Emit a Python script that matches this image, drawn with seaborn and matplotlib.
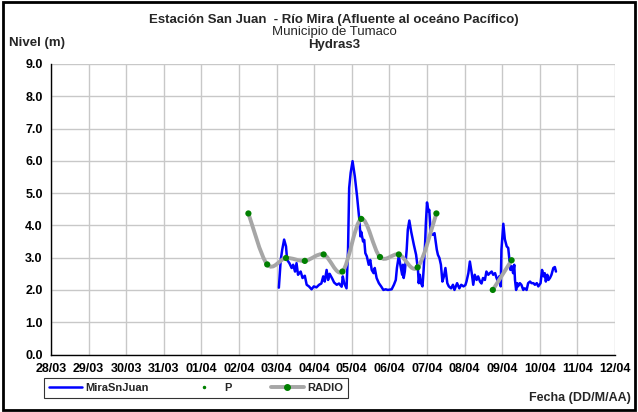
"""
Nivel del Río Mira - Estación San Juan (Hydras3)
Serie del sensor (MiraSnJuan) y lecturas por RADIO con línea suavizada.
"""

import numpy as np
import pandas as pd
import seaborn as sns
import matplotlib
matplotlib.use("Agg")
import matplotlib.pyplot as plt
import matplotlib.dates as mdates
from matplotlib.path import Path
from matplotlib.patches import PathPatch, Rectangle
from matplotlib.lines import Line2D

sns.set_style("white")
plt.rcParams['font.family'] = ['Liberation Sans', 'DejaVu Sans']

# Datos
START = pd.Timestamp("2008-04-03 00:00")

# días desde 03/04 00:00
blue_days = [0.06, 0.11, 0.15, 0.20, 0.25, 0.28, 0.34, 0.40, 0.44, 0.49,
             0.53, 0.57, 0.64, 0.69, 0.75, 0.80, 0.86, 0.93, 0.99, 1.06,
             1.13, 1.19, 1.24, 1.28, 1.33, 1.37, 1.41, 1.48, 1.53, 1.60,
             1.66, 1.73, 1.76, 1.80, 1.86, 1.90, 1.93, 1.97, 2.02, 2.08,
             2.14, 2.20, 2.23, 2.25, 2.30, 2.33, 2.36, 2.40, 2.45, 2.49,
             2.53, 2.58, 2.61, 2.66, 2.72, 2.78, 2.84, 2.90, 2.96, 3.06,
             3.12, 3.17, 3.20, 3.25, 3.29, 3.34, 3.36, 3.38, 3.41, 3.46,
             3.49, 3.53, 3.58, 3.65, 3.71, 3.76, 3.78, 3.81, 3.84, 3.88,
             3.91, 3.95, 3.97, 4.00, 4.04, 4.06, 4.10, 4.15, 4.20, 4.23,
             4.26, 4.29, 4.33, 4.37, 4.41, 4.45, 4.49, 4.54, 4.58, 4.64,
             4.69, 4.73, 4.80, 4.86, 4.91, 4.97, 5.02, 5.05, 5.10, 5.14,
             5.19, 5.23, 5.27, 5.32, 5.36, 5.41, 5.45, 5.49, 5.54, 5.58,
             5.63, 5.67, 5.72, 5.76, 5.81, 5.85, 5.89, 5.92, 5.96, 5.98,
             6.03, 6.07, 6.12, 6.16, 6.19, 6.22, 6.26, 6.29, 6.32, 6.34,
             6.37, 6.40, 6.42, 6.47, 6.51, 6.56, 6.60, 6.65, 6.69, 6.74,
             6.78, 6.83, 6.87, 6.92, 6.96, 7.02, 7.06, 7.10, 7.13, 7.16,
             7.20, 7.23, 7.27, 7.31, 7.36, 7.40, 7.43]
blue_level = [2.07, 2.93, 3.25, 3.56, 3.35, 2.93, 2.83, 2.68, 2.78, 2.57,
              2.83, 2.47, 2.57, 2.37, 2.44, 2.16, 2.11, 2.02, 2.11, 2.08,
              2.16, 2.20, 2.42, 2.26, 2.62, 2.31, 2.50, 2.35, 2.23, 2.16,
              2.20, 2.10, 2.42, 2.20, 2.05, 3.25, 5.16, 5.63, 5.99, 5.52,
              4.90, 4.18, 3.66, 3.80, 3.50, 3.55, 3.14, 3.04, 2.78, 2.93,
              2.62, 2.52, 2.68, 2.37, 2.21, 2.11, 2.00, 2.02, 2.00, 2.02,
              2.16, 2.31, 2.68, 3.06, 2.78, 2.47, 2.78, 2.37, 2.57, 3.25,
              3.87, 4.15, 3.80, 3.40, 3.09, 2.62, 2.21, 2.47, 2.21, 2.11,
              2.62, 3.45, 4.07, 4.71, 4.43, 4.48, 3.76, 3.71, 3.76, 3.50,
              3.25, 3.09, 2.99, 2.78, 2.26, 2.42, 2.68, 2.21, 2.11, 2.05,
              2.16, 2.00, 2.21, 2.05, 2.16, 2.11, 2.15, 2.26, 2.52, 2.88,
              2.52, 2.16, 2.47, 2.31, 2.42, 2.26, 2.20, 2.37, 2.31, 2.57,
              2.47, 2.52, 2.57, 2.47, 2.52, 2.37, 2.26, 2.42, 2.11, 3.25,
              4.05, 3.57, 3.35, 3.30, 2.95, 2.62, 2.73, 2.52, 2.78, 2.31,
              2.00, 2.21, 2.11, 2.21, 2.16, 2.00, 2.05, 2.00, 2.21, 2.26,
              2.21, 2.21, 2.16, 2.21, 2.11, 2.21, 2.62, 2.42, 2.52, 2.26,
              2.47, 2.31, 2.37, 2.47, 2.68, 2.71, 2.57]

radio_time = ["2008-04-02 06:00", "2008-04-02 18:00", "2008-04-03 06:00",
              "2008-04-03 18:00", "2008-04-04 06:00", "2008-04-04 18:00",
              "2008-04-05 06:00", "2008-04-05 18:00", "2008-04-06 06:00",
              "2008-04-06 18:00", "2008-04-07 06:00", "2008-04-07 18:00",
              "2008-04-08 06:00", "2008-04-08 18:00", "2008-04-09 06:00"]
radio_level = [4.37, 2.79, 2.99, 2.90, 3.10, 2.57, 4.20, 3.02, 3.10, 2.70,
               4.37, np.nan, np.nan, 2.00, 2.92]

y_ticks = [0, 1, 2, 3, 4, 5, 6, 7, 8, 9]


def smooth_path(x, y):
    """Curva suavizada tipo Excel (Bezier) por tramos sin huecos."""
    verts, codes = [], []
    ok = ~np.isnan(y)
    idx = np.where(ok)[0]
    segments = np.split(idx, np.where(np.diff(idx) != 1)[0] + 1)
    for seg in segments:
        if len(seg) < 2:
            continue
        px, py = x[seg], y[seg]
        n = len(px)
        verts.append((px[0], py[0]))
        codes.append(Path.MOVETO)
        for i in range(n - 1):
            i0 = max(i - 1, 0)
            i3 = min(i + 2, n - 1)
            c1 = (px[i] + (px[i + 1] - px[i0]) / 6, py[i] + (py[i + 1] - py[i0]) / 6)
            c2 = (px[i + 1] - (px[i3] - px[i]) / 6, py[i + 1] - (py[i3] - py[i]) / 6)
            verts += [c1, c2, (px[i + 1], py[i + 1])]
            codes += [Path.CURVE4] * 3
    return Path(verts, codes)


fig = plt.figure(figsize=(6.38, 4.12), dpi=100)
ax = fig.add_axes([51 / 638, 1 - 354.5 / 412, 564 / 638, 290.5 / 412])

df_blue = pd.DataFrame({
    "fecha": START + pd.to_timedelta(blue_days, unit="D"),
    "nivel": blue_level,
})
sns.lineplot(data=df_blue, x="fecha", y="nivel", color="#0000ff", lw=1.8,
             ax=ax, zorder=3)

df_radio = pd.DataFrame({"fecha": pd.to_datetime(radio_time), "nivel": radio_level})
xr = mdates.date2num(df_radio["fecha"])
ax.add_patch(PathPatch(smooth_path(xr, df_radio["nivel"].to_numpy()),
                       facecolor="none", edgecolor="#a6a6a6", lw=2.8, zorder=4))
sns.scatterplot(data=df_radio.dropna(), x="fecha", y="nivel", color="#008000",
                s=20, edgecolor="none", ax=ax, zorder=5)

ax.set_xlim(pd.Timestamp("2008-03-28"), pd.Timestamp("2008-04-12"))
ax.set_ylim(0, 9)
ax.set_yticks(y_ticks)
ax.yaxis.set_major_formatter(plt.FormatStrFormatter("%.1f"))
ax.xaxis.set_major_locator(mdates.DayLocator())
ax.xaxis.set_major_formatter(mdates.DateFormatter("%d/%m"))
ax.set_xlabel("")
ax.set_ylabel("")
ax.grid(True, color="#c8c8c8", lw=1.0)
ax.set_axisbelow(True)
for side in ["top", "right"]:
    ax.spines[side].set_visible(False)
for side in ["left", "bottom"]:
    ax.spines[side].set_color("black")
    ax.spines[side].set_linewidth(1.0)
ax.tick_params(direction="out", length=4, width=1, labelsize=9, colors="black", pad=2)
for lab in ax.get_xticklabels() + ax.get_yticklabels():
    lab.set_fontweight("bold")

# Títulos
fig.text(334 / 638, 1 - 20 / 412, "Estación San Juan  - Río Mira (Afluente al oceáno Pacífico)",
         ha="center", va="center", fontsize=9.5, fontweight="bold")
fig.text(334 / 638, 1 - 32.5 / 412, "Municipio de Tumaco", ha="center", va="center",
         fontsize=9.5)
fig.text(334 / 638, 1 - 45 / 412, "Hydras3", ha="center", va="center", fontsize=9.5,
         fontweight="bold")
fig.text(9 / 638, 1 - 43 / 412, "Nivel (m)", ha="left", va="center", fontsize=9.5,
         fontweight="bold")
fig.text(631 / 638, 1 - 398 / 412, "Fecha (DD/M/AA)", ha="right", va="center", fontsize=9,
         fontweight="bold")

handles = [
    Line2D([], [], color="#0000ff", lw=1.8),
    Line2D([], [], color="#008000", marker=".", ms=3, ls="none"),
    Line2D([], [], color="#a6a6a6", lw=2.8, marker="o", ms=4,
           markerfacecolor="#008000", markeredgecolor="#008000"),
]
leg = fig.legend(handles, ["MiraSnJuan", "P", "RADIO"], loc="center",
                 bbox_to_anchor=(196 / 638, 1 - 388 / 412), ncol=3, frameon=True,
                 fancybox=False, edgecolor="black", prop={"weight": "bold", "size": 8},
                 handlelength=3, columnspacing=3.5, borderpad=0.45, handletextpad=0.3)
leg.get_frame().set_linewidth(0.8)

fig.add_artist(Rectangle((0.004, 0.004), 0.992, 0.992, transform=fig.transFigure,
                         fill=False, edgecolor="black", lw=2))

fig.savefig("out.png", dpi=100)
